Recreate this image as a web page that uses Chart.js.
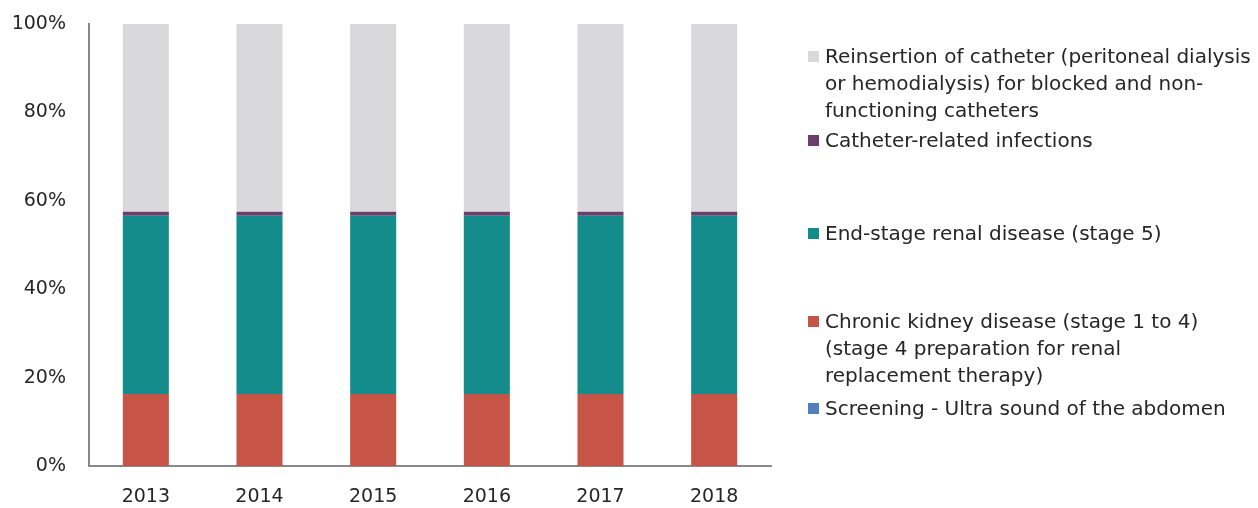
<!DOCTYPE html>
<html>
<head>
<meta charset="utf-8">
<script src="https://cdn.jsdelivr.net/npm/chart.js@4/dist/chart.umd.min.js"></script>
<style>
  html, body { margin: 0; padding: 0; background: #fff; }
  #wrap { position: relative; width: 1258px; height: 508px; }
  #legend { position: absolute; left: 0; top: 0; width: 1258px; font-family: "DejaVu Sans", sans-serif; font-size: 20px; color: #262626; }
  .item { position: absolute; left: 808px; white-space: pre; line-height: 27px; padding-left: 17px; }
  .item .sw { position: absolute; left: 0; top: 8px; width: 11px; height: 11px; }
</style>
</head>
<body>
<div id="wrap">
  <canvas id="c" width="1258" height="508"></canvas>
  <div id="legend"></div>
</div>
<script>
const years = ["2013", "2014", "2015", "2016", "2017", "2018"];
const screening = [0, 0, 0, 0, 0, 0];
const chronic = [16.3, 16.3, 16.3, 16.3, 16.3, 16.3];
const endStage = [40.3, 40.3, 40.3, 40.3, 40.3, 40.3];
const infections = [0.9, 0.9, 0.9, 0.9, 0.9, 0.9];
const reinsertion = [42.5, 42.5, 42.5, 42.5, 42.5, 42.5];
const yTicks = [0, 20, 40, 60, 80, 100];

const seriesNames = [
  "Screening - Ultra sound of the abdomen",
  "Chronic kidney disease (stage 1 to 4)\n(stage 4 preparation for renal\nreplacement therapy)",
  "End-stage renal disease (stage 5)",
  "Catheter-related infections",
  "Reinsertion of catheter (peritoneal dialysis\nor hemodialysis) for blocked and non-\nfunctioning catheters",
];
const colors = ["#4f81bd", "#c65447", "#148c8c", "#6b3e6b", "#d9d9db"];
const values = [screening, chronic, endStage, infections, reinsertion];

const font = { family: "'DejaVu Sans', sans-serif", size: 19 };

const chart = new Chart(document.getElementById("c"), {
  type: "bar",
  data: {
    labels: years,
    datasets: values.map((v, i) => ({
      label: seriesNames[i],
      data: v,
      backgroundColor: colors[i],
      borderWidth: 0,
      categoryPercentage: 1,
      barPercentage: 0.405,
    })),
  },
  options: {
    responsive: false,
    animation: false,
    layout: { padding: { top: 24, right: 487, left: 0, bottom: 0 } },
    plugins: { legend: { display: false }, tooltip: { enabled: false } },
    scales: {
      x: {
        stacked: true,
        grid: { display: false },
        border: { display: true, color: "#898989", width: 2 },
        ticks: { color: "#262626", font, padding: 12 },
        afterFit: s => { s.height = 42; s.paddingLeft = 0; s.paddingRight = 0; },
      },
      y: {
        stacked: true,
        min: 0,
        max: 100,
        grid: { display: false, drawTicks: false },
        border: { display: true, color: "#898989", width: 2 },
        afterBuildTicks: s => { s.ticks = yTicks.map(v => ({ value: v })); },
        ticks: { color: "#262626", font, padding: 23, callback: v => v + "%" },
        afterFit: s => { s.width = 89; s.paddingTop = 0; s.paddingBottom = 0; },
      },
    },
  },
});

// legend, top to bottom in reverse dataset order
const legendTops = [43, 127, 220, 308, 395];
const legend = document.getElementById("legend");
chart.data.datasets.slice().reverse().forEach((ds, i) => {
  const item = document.createElement("div");
  item.className = "item";
  item.style.top = legendTops[i] + "px";
  const sw = document.createElement("span");
  sw.className = "sw";
  sw.style.background = ds.backgroundColor;
  item.appendChild(sw);
  item.appendChild(document.createTextNode(ds.label));
  legend.appendChild(item);
});
</script>
</body>
</html>
